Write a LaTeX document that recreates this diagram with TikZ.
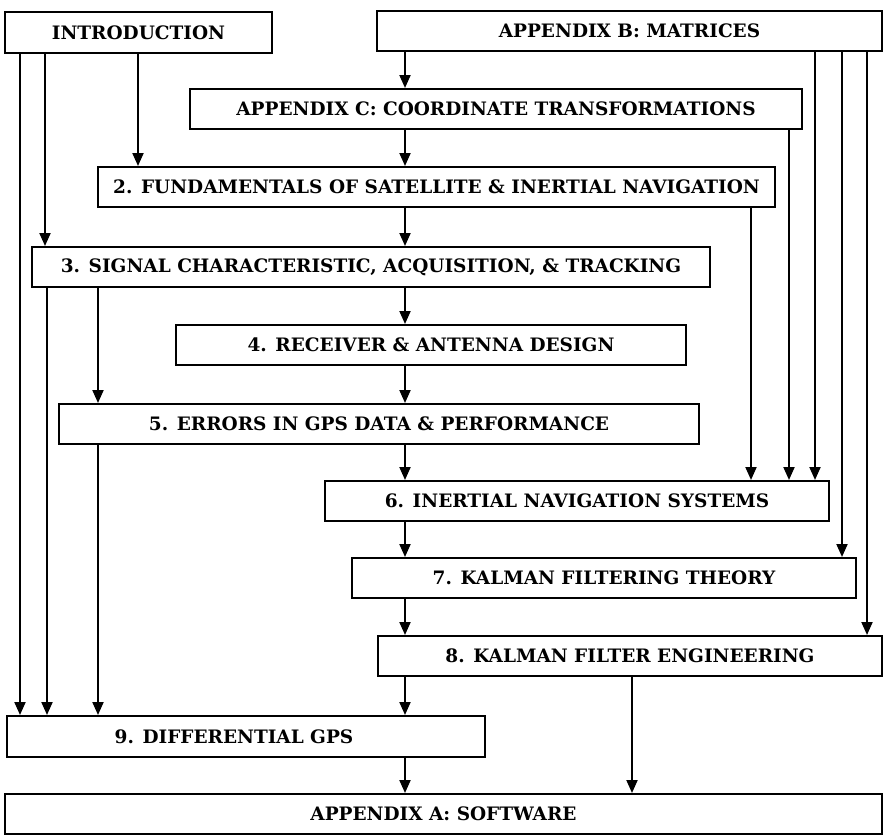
\documentclass[tikz,border=0pt]{standalone}
\usepackage{fontspec}
\setmainfont{DejaVu Serif}
\usetikzlibrary{arrows.meta}
\begin{document}
\begin{tikzpicture}[x=1pt,y=-1pt,
  box/.style={draw, line width=2pt, rectangle, inner sep=0pt, minimum height=40pt,
    font=\bfseries\fontsize{18.5}{20}\selectfont},
  arr/.style={line width=2pt, -{Triangle[length=13pt,width=11pt]}}]
\useasboundingbox (0,0) rectangle (885,836);
% boxes
\node[box, minimum width=267pt, minimum height=41pt] (intro) at (138.5,32.5) {INTRODUCTION};
\node[box, minimum width=505pt] (B) at (629.5,31) {APPENDIX B: MATRICES};
\node[box, minimum width=612pt] (C) at (496,109) {APPENDIX C: COORDINATE TRANSFORMATIONS};
\node[box, minimum width=677pt] (f2) at (436.5,187) {2. FUNDAMENTALS OF SATELLITE \& INERTIAL NAVIGATION};
\node[box, minimum width=678pt] (f3) at (371,267) {3. SIGNAL CHARACTERISTIC, ACQUISITION, \& TRACKING};
\node[box, minimum width=510pt] (f4) at (431,345) {4. RECEIVER \& ANTENNA DESIGN};
\node[box, minimum width=640pt] (f5) at (379,424) {5. ERRORS IN GPS DATA \& PERFORMANCE};
\node[box, minimum width=504pt] (f6) at (577,501) {6. INERTIAL NAVIGATION SYSTEMS};
\node[box, minimum width=504pt] (f7) at (604,578) {7. KALMAN FILTERING THEORY};
\node[box, minimum width=504pt] (f8) at (630,656) {8. KALMAN FILTER ENGINEERING};
\node[box, minimum width=478pt, minimum height=41pt] (f9) at (246,736.5) {\hspace*{-24pt}9. DIFFERENTIAL GPS};
\node[box, minimum width=877pt] (A) at (443.5,814) {APPENDIX A: SOFTWARE};
% x positions of connectors
\coordinate (xa) at (20,0);
\coordinate (xb) at (45,0);
\coordinate (xc) at (47,0);
\coordinate (xd) at (98,0);
\coordinate (xe) at (138,0);
\coordinate (xm) at (405,0);
\coordinate (xf) at (632,0);
\coordinate (xg) at (751,0);
\coordinate (xh) at (789,0);
\coordinate (xi) at (815,0);
\coordinate (xj) at (842,0);
\coordinate (xk) at (867,0);
% connectors
\draw[arr] (intro.south -| xa) -- (f9.north -| xa);
\draw[arr] (intro.south -| xb) -- (f3.north -| xb);
\draw[arr] (f3.south -| xc) -- (f9.north -| xc);
\draw[arr] (intro.south -| xe) -- (f2.north -| xe);
\draw[arr] (f3.south -| xd) -- (f5.north -| xd);
\draw[arr] (f5.south -| xd) -- (f9.north -| xd);
\draw[arr] (B.south -| xm) -- (C.north -| xm);
\draw[arr] (C.south -| xm) -- (f2.north -| xm);
\draw[arr] (f2.south -| xm) -- (f3.north -| xm);
\draw[arr] (f3.south -| xm) -- (f4.north -| xm);
\draw[arr] (f4.south -| xm) -- (f5.north -| xm);
\draw[arr] (f5.south -| xm) -- (f6.north -| xm);
\draw[arr] (f6.south -| xm) -- (f7.north -| xm);
\draw[arr] (f7.south -| xm) -- (f8.north -| xm);
\draw[arr] (f8.south -| xm) -- (f9.north -| xm);
\draw[arr] (f9.south -| xm) -- (A.north -| xm);
\draw[arr] (f8.south -| xf) -- (A.north -| xf);
\draw[arr] (f2.south -| xg) -- (f6.north -| xg);
\draw[arr] (C.south -| xh) -- (f6.north -| xh);
\draw[arr] (B.south -| xi) -- (f6.north -| xi);
\draw[arr] (B.south -| xj) -- (f7.north -| xj);
\draw[arr] (B.south -| xk) -- (f8.north -| xk);
\end{tikzpicture}
\end{document}
